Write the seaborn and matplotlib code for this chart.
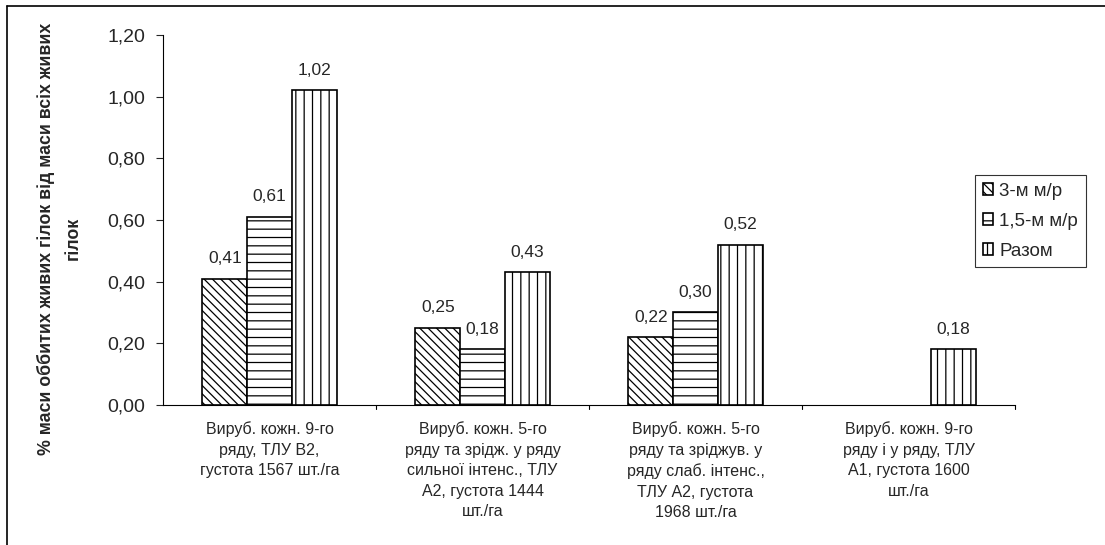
import numpy as np
import pandas as pd
import matplotlib
matplotlib.use("Agg")
import matplotlib.pyplot as plt
from matplotlib.lines import Line2D
import seaborn as sns

categories = [
    "Вируб. кожн. 9-го\nряду, ТЛУ В2,\nгустота 1567 шт./га",
    "Вируб. кожн. 5-го\nряду та зрідж. у ряду\nсильної інтенс., ТЛУ\nА2, густота 1444\nшт./га",
    "Вируб. кожн. 5-го\nряду та зріджув. у\nряду слаб. інтенс.,\nТЛУ А2, густота\n1968 шт./га",
    "Вируб. кожн. 9-го\nряду і у ряду, ТЛУ\nА1, густота 1600\nшт./га",
]
series_names = ["3-м м/р", "1,5-м м/р", "Разом"]
vals_3m = [0.41, 0.25, 0.22, np.nan]
vals_15m = [0.61, 0.18, 0.30, np.nan]
vals_total = [1.02, 0.43, 0.52, 0.18]
hatches = ["\\\\\\\\", "--", "||"]

df = pd.DataFrame({
    "cat": categories * 3,
    "series": [s for s in series_names for _ in categories],
    "value": vals_3m + vals_15m + vals_total,
})

sns.set_style("white")
plt.rcParams["font.family"] = ["Liberation Sans", "DejaVu Sans"]
plt.rcParams["hatch.linewidth"] = 0.9

fig = plt.figure(figsize=(11.05, 5.45), dpi=100)
ax = fig.add_axes([0.1475, 0.2569, 0.7711, 0.6789])

sns.barplot(data=df, x="cat", y="value", hue="series", hue_order=series_names,
            order=categories, width=0.63, palette=["white"] * 3,
            edgecolor="black", linewidth=1.2, errorbar=None, ax=ax, legend=True)

for cont, h in zip(ax.containers, hatches):
    for bar in cont:
        bar.set_hatch(h)
    labels = [("" if np.isnan(v) else f"{v:.2f}".replace(".", ",")) for v in cont.datavalues]
    ax.bar_label(cont, labels=labels, padding=9, fontsize=12.5)

ax.set_ylim(0, 1.2)
ax.set_xlim(-0.5, 3.5)
yt = np.arange(0, 1.21, 0.2)
ax.set_yticks(yt)
ax.set_yticklabels([f"{t:.2f}".replace(".", ",") for t in yt], fontsize=14)
ax.set_xticks([0, 1, 2, 3])
ax.set_xticklabels(categories, fontsize=11.5, linespacing=1.45)
ax.tick_params(axis="x", length=0, pad=12)
ax.tick_params(axis="y", length=5, direction="out", left=True, width=0.8, pad=8)
for p in [0.5, 1.5, 2.5, 3.5]:
    ax.plot([p, p], [0, -0.012], color="black", lw=0.8, clip_on=False,
            transform=ax.get_xaxis_transform())

for side in ["top", "right"]:
    ax.spines[side].set_visible(False)
for side in ["left", "bottom"]:
    ax.spines[side].set_color("black")
    ax.spines[side].set_linewidth(0.8)

ax.set_xlabel("")
ax.set_ylabel("% маси оббитих живих гілок від маси всіх живих\nгілок",
              fontsize=12.8, fontweight="bold", linespacing=1.75, va="center")
ax.yaxis.set_label_coords(-0.122, 0.449)

handles, lbls = ax.get_legend_handles_labels()
for hnd, h in zip(handles, hatches):
    hnd.set_hatch(h)
ax.legend(handles, lbls, loc="upper left", bbox_to_anchor=(975 / 1105, 1 - 175 / 545),
          bbox_transform=fig.transFigure, fontsize=13.5, frameon=True, fancybox=False,
          edgecolor="black", handlelength=0.55, handleheight=0.55, handletextpad=0.35,
          borderpad=0.4, labelspacing=0.7, borderaxespad=0)
ax.get_legend().get_frame().set_linewidth(0.8)

fig.add_artist(Line2D([7 / 1105, 1], [1 - 6 / 545, 1 - 6 / 545], color="black", lw=1.2))
fig.add_artist(Line2D([7 / 1105, 7 / 1105], [0, 1 - 6 / 545], color="black", lw=1.2))

fig.savefig("out.png", dpi=100)
